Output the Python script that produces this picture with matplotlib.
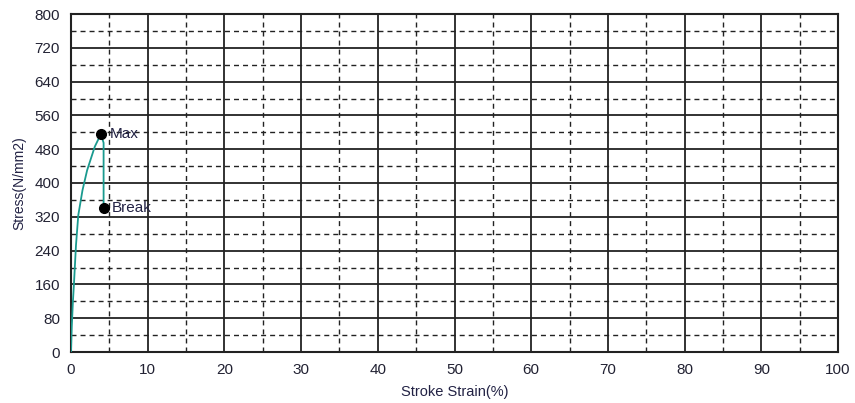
import numpy as np
import matplotlib
matplotlib.use("Agg")
import matplotlib.pyplot as plt
from matplotlib.ticker import MultipleLocator

plt.rcParams['font.family'] = ['Liberation Sans', 'DejaVu Sans']

# stress-strain curve
strain = [0.0, 0.1, 0.25, 0.39, 0.65, 0.95, 1.5, 2.1, 3.1, 3.9, 4.25, 4.25]
stress = [0, 60, 120, 163, 253, 324, 383, 430, 486, 516, 495, 341]
max_pt = (3.9, 516)
break_pt = (4.25, 341)

fig = plt.figure(figsize=(8.55, 4.03), dpi=100)
ax = fig.add_axes([71 / 855, 1 - 352 / 403, (838 - 71) / 855, (352 - 14) / 403])

ax.plot(strain, stress, color='#1a9a8f', lw=1.3, zorder=3)
ax.plot(*max_pt, 'o', color='black', ms=7, zorder=4)
ax.plot(*break_pt, 'o', color='black', ms=7, zorder=4)
ax.text(max_pt[0] + 1.1, max_pt[1], 'Max', fontsize=11, va='center', color='#222244')
ax.text(break_pt[0] + 1.1, break_pt[1], 'Break', fontsize=11, va='center', color='#222244')

ax.set_xlim(0, 100)
ax.set_ylim(0, 800)
ax.xaxis.set_major_locator(MultipleLocator(10))
ax.yaxis.set_major_locator(MultipleLocator(80))
ax.xaxis.set_minor_locator(MultipleLocator(5))
ax.yaxis.set_minor_locator(MultipleLocator(40))
ax.grid(which='major', color='#222222', lw=1.3, ls='-')
ax.grid(which='minor', color='#222222', lw=1.0, ls=(0, (3.6, 2.9)))
ax.set_axisbelow(True)
ax.tick_params(which='both', length=0, labelsize=11, colors='#222233')
ax.tick_params(axis='x', pad=8)
ax.tick_params(axis='y', pad=8)
for s in ax.spines.values():
    s.set_linewidth(1.5)
    s.set_color('#222222')

ax.set_xlabel('Stroke Strain(%)', fontsize=10.5, color='#222244', labelpad=6)
ax.set_ylabel('Stress(N/mm2)', fontsize=10, color='#222244', labelpad=6)

fig.savefig('out.png', dpi=100)
